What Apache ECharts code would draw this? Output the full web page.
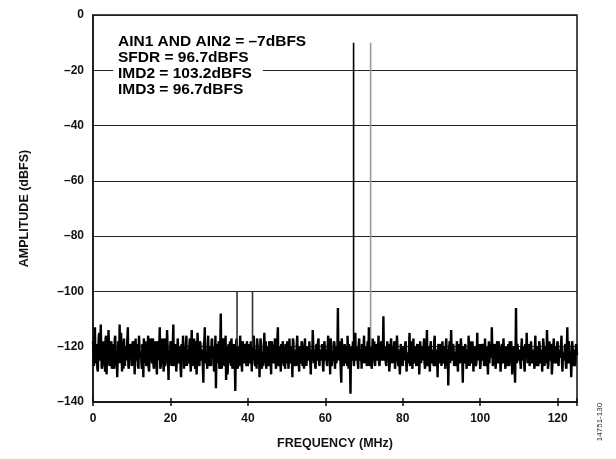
<!DOCTYPE html>
<html><head><meta charset="utf-8">
<script src="https://cdn.jsdelivr.net/npm/echarts@6/dist/echarts.min.js"></script>
<style>html,body{margin:0;padding:0;background:#fff}#c{width:616px;height:459px}</style>
</head><body><div id="c"></div>
<script>
// Noise floor samples (dBFS): noiseA at 0, 0.25, 0.5 ... MHz; noiseB at 0.125, 0.375 ... MHz
const freqStep = 0.25;
const noiseA = [
-118,-127,-113,-125,-120,-129,-116,-124,-112,-128,-119,-122,-126,-117,-130,-121,-114,-127,-123,-118,
-125,-119,-128,-116,-123,-131,-118,-126,-120,-115,-129,-122,-117,-127,-121,-125,-113,-128,-119,-124,
-127,-118,-122,-130,-117,-125,-120,-128,-116,-123,-126,-119,-131,-121,-118,-127,-124,-116,-129,-122,
-119,-126,-117,-128,-121,-124,-130,-118,-125,-113,-127,-120,-123,-129,-117,-126,-122,-119,-132,-124,
-118,-127,-121,-112,-125,-119,-129,-123,-117,-126,-120,-131,-122,-116,-128,-124,-119,-127,-121,-125,
-117,-129,-114,-126,-120,-124,-118,-130,-115,-123,-127,-119,-125,-121,-133,-118,-126,-122,-128,-116,
-124,-120,-127,-117,-123,-129,-121,-135,-119,-126,-118,-125,-108,-128,-122,-120,-127,-116,-124,-130,
-119,-126,-122,-117,-128,-121,-124,-136,-118,-125,-120,-127,-116,-123,-129,-119,-126,-121,-124,-118,
-127,-120,-125,-118,-129,-122,-116,-126,-121,-128,-119,-124,-131,-117,-125,-122,-127,-115,-123,-128,
-120,-126,-118,-124,-130,-119,-125,-121,-117,-128,-123,-113,-126,-120,-129,-122,-118,-127,-124,-119,
-126,-121,-128,-117,-124,-120,-131,-118,-125,-122,-127,-116,-123,-129,-120,-126,-119,-124,-128,-117,
-123,-127,-120,-125,-118,-130,-122,-114,-126,-121,-128,-119,-124,-117,-127,-122,-125,-120,-129,-118,
-125,-121,-127,-116,-124,-130,-119,-126,-122,-118,-128,-123,-120,-106,-125,-121,-129,-117,-124,-127,
-119,-126,-121,-116,-128,-123,-137,-120,-125,-118,-127,-115,-124,-121,-128,-117,-125,-122,-119,-126,
-116,-124,-120,-127,-118,-113,-125,-121,-128,-117,-123,-126,-119,-125,-121,-116,-127,-122,-118,-124,
-109,-125,-120,-127,-118,-123,-129,-121,-117,-126,-122,-119,-128,-124,-116,-125,-121,-130,-119,-123,
-127,-120,-125,-118,-129,-122,-126,-115,-124,-120,-128,-117,-125,-121,-127,-119,-123,-130,-118,-126,
-121,-125,-117,-128,-122,-114,-126,-120,-129,-118,-124,-121,-127,-116,-125,-122,-131,-119,-124,-120,
-127,-118,-125,-121,-128,-117,-123,-134,-120,-126,-114,-124,-119,-127,-122,-125,-118,-129,-121,-124,
-117,-126,-133,-120,-125,-119,-128,-122,-116,-127,-121,-124,-118,-129,-123,-120,-126,-115,-125,-122,
-128,-119,-124,-121,-127,-117,-125,-122,-130,-118,-126,-120,-113,-127,-123,-119,-128,-121,-125,-118,
-124,-129,-120,-126,-117,-123,-128,-121,-125,-119,-127,-122,-118,-130,-124,-120,-133,-106,-126,-119,
-125,-121,-128,-117,-124,-120,-129,-122,-115,-126,-119,-127,-123,-118,-125,-121,-128,-116,-124,-120,
-127,-118,-125,-122,-129,-117,-123,-120,-126,-114,-128,-121,-124,-119,-130,-122,-117,-126,-120,-125,
-118,-127,-121,-124,-116,-129,-122,-125,-119,-128,-113,-126,-120,-124,-131,-118,-125,-121,-127,-119,
-123
];
const noiseB = [
-122,-117,-126,-119,-128,-121,-115,-125,-120,-127,-118,-124,-129,-116,-123,-126,-119,-125,-121,-128,
-120,-124,-117,-127,-122,-125,-119,-112,-126,-121,-118,-128,-123,-120,-125,-117,-127,-122,-124,-119,
-126,-121,-118,-125,-123,-119,-127,-116,-124,-122,-128,-120,-117,-126,-122,-125,-119,-128,-121,-117,
-124,-120,-127,-122,-118,-126,-121,-125,-119,-128,-123,-117,-125,-121,-127,-120,-114,-124,-122,-126,
-121,-125,-118,-127,-123,-120,-126,-117,-124,-121,-128,-119,-125,-122,-120,-127,-116,-123,-126,-120,
-125,-119,-127,-121,-117,-128,-122,-125,-120,-126,-118,-124,-121,-127,-119,-113,-125,-122,-120,-127,
-121,-126,-118,-124,-120,-127,-116,-123,-126,-120,-128,-119,-124,-122,-117,-126,-121,-132,-120,-125,
-122,-118,-127,-121,-125,-119,-126,-122,-117,-128,-121,-124,-120,-126,-118,-125,-123,-119,-127,-121,
-124,-119,-126,-122,-118,-125,-120,-127,-123,-117,-126,-121,-125,-119,-128,-122,-120,-126,-118,-124,
-122,-127,-120,-125,-118,-123,-126,-120,-124,-121,-117,-127,-122,-125,-119,-126,-121,-124,-128,-120,
-118,-125,-122,-126,-120,-124,-117,-127,-121,-125,-119,-123,-126,-120,-124,-118,-127,-122,-120,-125,
-127,-120,-124,-118,-126,-121,-125,-119,-123,-127,-120,-125,-118,-126,-121,-124,-119,-127,-122,-120,
-123,-126,-119,-125,-121,-117,-127,-122,-125,-119,-124,-126,-121,-125,-118,-124,-133,-121,-126,-122,
-125,-120,-127,-123,-119,-126,-121,-124,-118,-127,-122,-125,-120,-126,-119,-124,-121,-128,-123,-120,
-126,-121,-125,-119,-124,-127,-120,-126,-122,-125,-118,-127,-121,-124,-120,-126,-123,-119,-125,-121,
-124,-120,-126,-122,-125,-119,-127,-121,-124,-120,-126,-118,-125,-122,-120,-127,-121,-124,-119,-126,
-121,-125,-119,-126,-122,-124,-120,-127,-118,-125,-122,-126,-120,-124,-121,-127,-119,-125,-122,-120,
-125,-120,-126,-122,-119,-127,-121,-124,-120,-126,-122,-125,-118,-127,-121,-124,-120,-126,-123,-119,
-122,-126,-120,-125,-119,-127,-121,-124,-118,-126,-122,-125,-120,-124,-127,-121,-125,-119,-126,-122,
-120,-125,-122,-126,-119,-124,-121,-127,-120,-125,-118,-126,-122,-124,-120,-127,-121,-125,-119,-124,
-126,-121,-125,-119,-124,-127,-120,-125,-122,-126,-119,-124,-121,-127,-120,-125,-122,-118,-126,-121,
-123,-126,-119,-125,-121,-124,-120,-127,-122,-125,-118,-126,-121,-124,-120,-126,-122,-125,-119,-124,
-121,-126,-120,-125,-122,-127,-119,-124,-121,-126,-120,-125,-118,-126,-122,-124,-120,-127,-121,-125,
-124,-120,-126,-121,-125,-119,-127,-122,-124,-120,-126,-118,-125,-121,-127,-120,-124,-122,-126,-119,
-125,-121,-124,-119,-126,-122,-125,-120,-127,-121,-124,-118,-126,-122,-125,-120,-127,-121,-124,-120
];
// Spurs and tones: frequency, peak level, level at the foot of the line
const spurFreq  = [37.2, 41.2, 67.3, 71.7];
const spurAmp   = [-100, -100, -10, -10];
const spurFloor = [-120, -120, -120, -120];
const spurColor = ['#333', '#333', '#000', '#999'];
// Axes
const yTicks = [0, -20, -40, -60, -80, -100, -120, -140];
const xTicks = [0, 20, 40, 60, 80, 100, 120];
const notes = ['AIN1 AND AIN2 = \u20137dBFS', 'SFDR = 96.7dBFS', 'IMD2 = 103.2dBFS', 'IMD3 = 96.7dBFS'];

const main = noiseA.map((v, i) => [i * freqStep, v]);
noiseB.forEach((v, i) => main.push([freqStep / 2 + i * freqStep, v]));
main.sort((a, b) => a[0] - b[0]);

const FONT = 'Liberation Sans, Arial, sans-serif';
const axisCommon = {type: 'value', min: 0, max: 125, interval: 20};
const series = [
  {type: 'line', xAxisIndex: 0, data: main, showSymbol: false, symbol: 'none', sampling: null,
   lineStyle: {color: '#000', width: 2.4}, z: 3}
];
spurFreq.forEach((f, k) => series.push({
  type: 'line', xAxisIndex: 0, data: [[f, spurFloor[k]], [f, spurAmp[k]]],
  showSymbol: false, symbol: 'none', lineStyle: {color: spurColor[k], width: 1.6}, z: spurColor[k] === '#999' ? 2 : 4
}));

const chart = echarts.init(document.getElementById('c'), null, {renderer: 'canvas'});
chart.setOption({
  animation: false,
  backgroundColor: '#fff',
  grid: {left: 93, right: 39, top: 15, bottom: 57, show: true, borderColor: '#111', borderWidth: 1.5, containLabel: false},
  xAxis: [{
    ...axisCommon,
    name: 'FREQUENCY (MHz)', nameLocation: 'middle', nameGap: 35,
    nameTextStyle: {fontFamily: FONT, fontWeight: 'bold', fontSize: 12.5, color: '#111'},
    axisLine: {show: true, onZero: false, lineStyle: {color: '#111', width: 1.5}},
    axisTick: {show: true, inside: true, length: 4, lineStyle: {color: '#111', width: 1.5}},
    axisLabel: {fontFamily: FONT, fontWeight: 'bold', fontSize: 12, color: '#111', margin: 11,
      formatter: v => xTicks.indexOf(v) >= 0 ? String(v) : ''},
    splitLine: {show: false}
  }, {
    ...axisCommon, position: 'bottom',
    axisLine: {show: false, onZero: false},
    axisTick: {show: true, inside: false, length: 4, lineStyle: {color: '#111', width: 1.5}},
    axisLabel: {show: false},
    splitLine: {show: false}
  }],
  yAxis: {
    type: 'value', min: -140, max: 0, interval: 20,
    name: 'AMPLITUDE (dBFS)', nameLocation: 'middle', nameGap: 62, nameRotate: 90,
    nameTextStyle: {fontFamily: FONT, fontWeight: 'bold', fontSize: 12.5, color: '#111'},
    axisLine: {show: true, lineStyle: {color: '#111', width: 1.5}},
    axisTick: {show: false},
    axisLabel: {fontFamily: FONT, fontWeight: 'bold', fontSize: 12, color: '#111', margin: 9,
      formatter: v => yTicks.indexOf(v) >= 0 ? String(v).replace('-', '\u2013') : ''},
    splitLine: {show: true, lineStyle: {color: '#222', width: 1.2}}
  },
  series: series,
  graphic: [
    {type: 'text', left: 113, top: 34, z: 10,
     style: {
       text: notes.map(t => '{a|' + t + '}').join('\n'),
       rich: {a: {fontFamily: FONT, fontWeight: 'bold', fontSize: 15.5, lineHeight: 16, color: '#111',
                  backgroundColor: '#fff', padding: [0, 11, 0, 5]}}
     }},
    {type: 'text', x: 600, y: 422, rotation: Math.PI / 2, z: 10,
     style: {text: '14751-130', fontFamily: FONT, fontSize: 8, fill: '#333', align: 'center', verticalAlign: 'middle'}}
  ]
});
</script></body></html>
